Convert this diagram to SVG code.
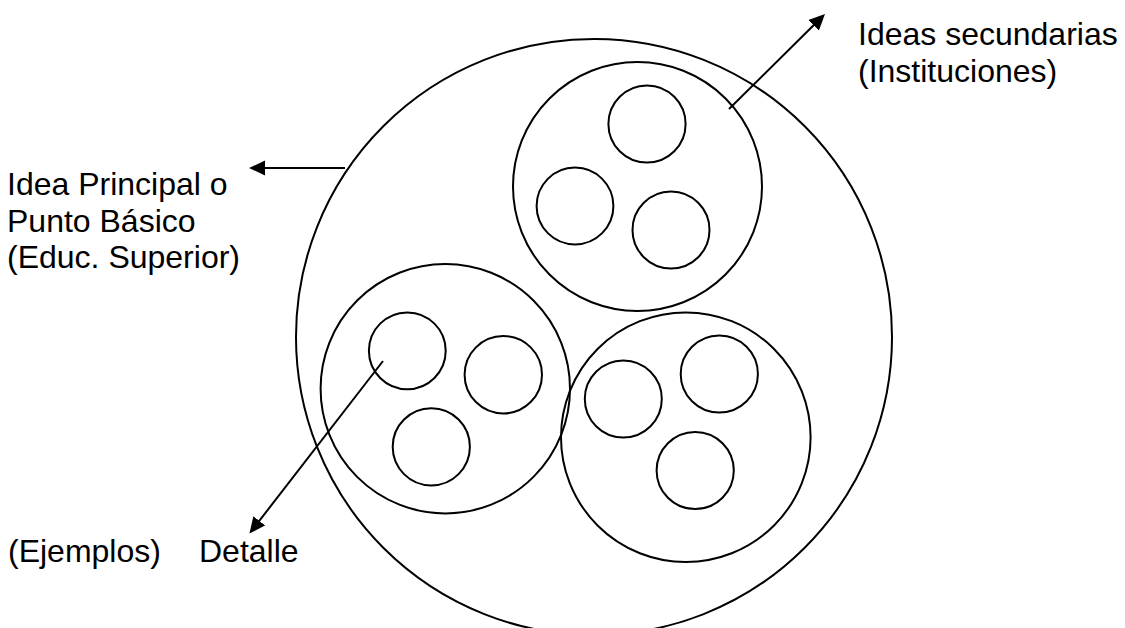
<svg xmlns="http://www.w3.org/2000/svg" width="1125" height="628" viewBox="0 0 1125 628">
  <style>
    .ring { fill: none; stroke: #000; stroke-width: 2; }
    .link { fill: none; stroke: #000; stroke-width: 2; }
    .label { font-family: "Liberation Sans", Arial, sans-serif; font-size: 32px; fill: #000; }
  </style>
  <defs>
    <marker id="head" markerUnits="userSpaceOnUse" viewBox="0 0 16 16" markerWidth="16" markerHeight="16" refX="6" refY="8" orient="auto">
      <path d="M0,0.5 L16,8 L0,15.5 Z" fill="#000"/>
    </marker>
  </defs>

  <rect width="1125" height="628" fill="#fff"/>

  <!-- main idea: the large enclosing circle -->
  <g id="idea-principal">
    <circle class="ring" cx="594" cy="337" r="298"/>
  </g>

  <!-- secondary idea, top right -->
  <g id="idea-secundaria-1">
    <circle class="ring" cx="637.5" cy="186.5" r="124.5"/>
    <circle class="ring" cx="647" cy="124" r="38.6"/>
    <circle class="ring" cx="575" cy="206" r="38.4"/>
    <circle class="ring" cx="671" cy="230" r="38.5"/>
  </g>

  <!-- secondary idea, bottom left -->
  <g id="idea-secundaria-2">
    <circle class="ring" cx="445.3" cy="388.7" r="124.7"/>
    <circle class="ring" cx="407.3" cy="350.8" r="38.4"/>
    <circle class="ring" cx="503.3" cy="374.7" r="38.7"/>
    <circle class="ring" cx="431.3" cy="446.8" r="38.6"/>
  </g>

  <!-- secondary idea, bottom right -->
  <g id="idea-secundaria-3">
    <circle class="ring" cx="685.8" cy="437.2" r="124.8"/>
    <circle class="ring" cx="623.3" cy="399" r="38.5"/>
    <circle class="ring" cx="719.3" cy="374" r="38.6"/>
    <circle class="ring" cx="695.2" cy="470.5" r="38.6"/>
  </g>

  <!-- labels -->
  <g id="label-principal">
    <text class="label" x="7" y="195">Idea Principal o</text>
    <text class="label" x="7" y="231.5">Punto Básico</text>
    <text class="label" x="7" y="268">(Educ. Superior)</text>
  </g>
  <g id="label-secundarias">
    <text class="label" x="858" y="45">Ideas secundarias</text>
    <text class="label" x="858" y="81.5">(Instituciones)</text>
  </g>
  <g id="label-ejemplos">
    <text class="label" x="8" y="561.5">(Ejemplos)</text>
  </g>
  <g id="label-detalle">
    <text class="label" x="199" y="561.5">Detalle</text>
  </g>

  <!-- connectors -->
  <g id="connectors">
    <line class="link" x1="345" y1="168" x2="259" y2="168" marker-end="url(#head)"/>
    <line class="link" x1="729" y1="109" x2="817.9" y2="21" marker-end="url(#head)"/>
    <line class="link" x1="383" y1="361" x2="255.6" y2="525.6" marker-end="url(#head)"/>
  </g>
</svg>
